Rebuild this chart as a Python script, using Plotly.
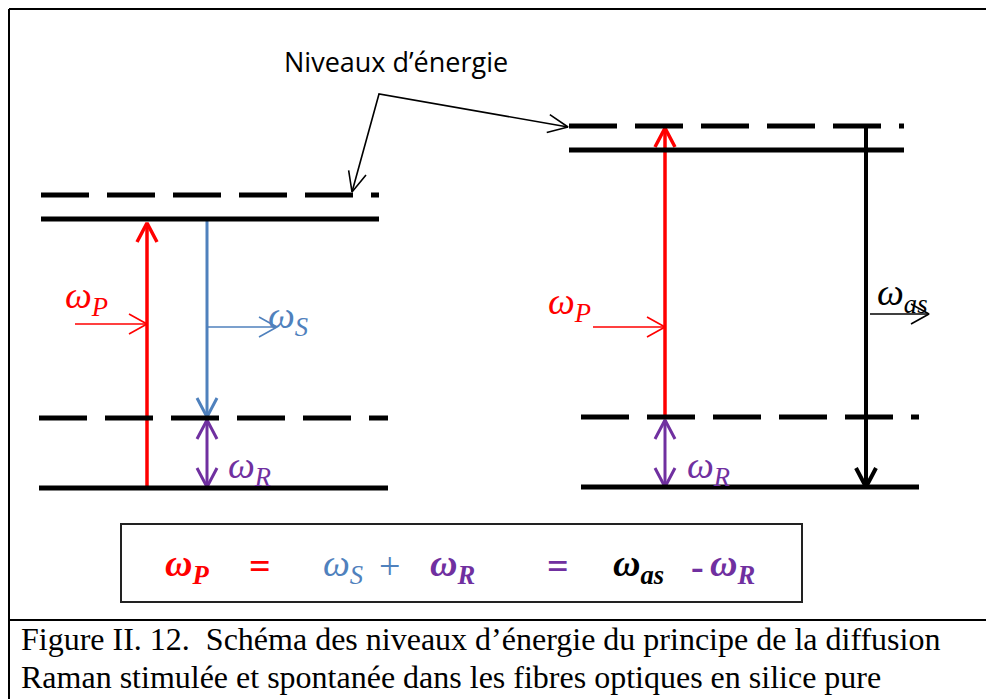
import math
import plotly.graph_objects as go

W, H = 986, 699

# ---------------- data: energy levels (diagram units, y grows downward) ----------------
level_x0 = [41, 41, 39, 39, 569, 569, 581, 581]
level_x1 = [379, 379, 388, 388, 904, 904, 919, 919]
level_y = [195, 219, 418, 488, 126, 150, 417, 487]
level_virtual = [True, False, True, False, True, False, True, False]

# ---------------- data: vertical transitions ----------------
trans_x = [147, 207, 207, 665, 665, 866]
trans_y0 = [488, 219, 487, 417, 487, 126]
trans_y1 = [223, 417, 420, 128, 420, 487]
trans_color = ["#FF0000", "#4F81BD", "#7030A0", "#FF0000", "#7030A0", "#000000"]
trans_width = [3.5, 3, 3, 3.5, 3, 4]
trans_double = [False, False, True, False, True, False]

# ---------------- data: photon (horizontal) arrows ----------------
photon_x0 = [75, 207, 593, 870]
photon_x1 = [147, 277, 665, 929]
photon_y = [324, 327, 327, 314]
photon_color = ["#FF0000", "#4F81BD", "#FF0000", "#000000"]

# ---------------- data: labels ----------------
label_text = ["ω<sub>P</sub>", "ω<sub>S</sub>", "ω<sub>R</sub>",
              "ω<sub>P</sub>", "ω<sub>R</sub>", "ω<sub>as</sub>"]
label_x = [63, 266, 226, 546, 685, 875]
label_y = [298, 318, 468, 304, 468, 295]
label_color = ["#FF0000", "#4F81BD", "#7030A0", "#FF0000", "#7030A0", "#000000"]

# callout "Niveaux d'énergie"
callout_text = "Niveaux d’énergie"
callout_path_x = [352, 379, 568]
callout_path_y = [192, 94, 127]

# equation pieces
eq_text = ["<b><i>ω<sub>P</sub></i></b>", "<b>=</b>", "<i>ω<sub>S</sub></i>", "+",
           "<b><i>ω<sub>R</sub></i></b>", "<b>=</b>", "<b><i>ω<sub>as</sub></i></b>",
           "<b>-</b>", "<b><i>ω<sub>R</sub></i></b>"]
eq_x = [163, 247, 321, 377, 428, 545, 611, 689, 708]
eq_color = ["#FF0000", "#FF0000", "#4F81BD", "#4F81BD", "#7030A0", "#7030A0",
            "#000000", "#7030A0", "#7030A0"]

caption_lines = ["Figure II. 12.  Schéma des niveaux d’énergie du principe de la diffusion",
                 "Raman stimulée et spontanée dans les fibres optiques en silice pure"]


def vhead(xt, yt, xf, yf, length, half):
    dx, dy = xt - xf, yt - yf
    d = math.hypot(dx, dy)
    ux, uy = dx / d, dy / d
    px, py = -uy, ux
    bx, by = xt - ux * length, yt - uy * length
    return [bx + px * half, xt, bx - px * half], [by + py * half, yt, by - py * half]


fig = go.Figure()
shapes = []

# frame
shapes.append(dict(type="line", x0=9, y0=9, x1=W, y1=9, line=dict(color="black", width=2)))
shapes.append(dict(type="line", x0=9, y0=9, x1=9, y1=H, line=dict(color="black", width=2)))
shapes.append(dict(type="line", x0=9, y0=620, x1=W, y1=620, line=dict(color="black", width=2)))

# energy levels
for x0, x1, y, virt in zip(level_x0, level_x1, level_y, level_virtual):
    shapes.append(dict(type="line", x0=x0, x1=x1, y0=y, y1=y,
                       line=dict(color="black", width=5, dash="48px,18px" if virt else "solid")))

# equation box
shapes.append(dict(type="rect", x0=121, x1=802, y0=524, y1=602,
                   line=dict(color="#222222", width=2), fillcolor="rgba(0,0,0,0)"))


def add_line(xs, ys, color, width):
    fig.add_trace(go.Scatter(x=xs, y=ys, mode="lines", line=dict(color=color, width=width),
                             hoverinfo="skip", showlegend=False))


# vertical transitions
for x, y0, y1, c, w, dbl in zip(trans_x, trans_y0, trans_y1, trans_color, trans_width, trans_double):
    add_line([x, x], [y0, y1], c, w)
    hx, hy = vhead(x, y1, x, y0, 19, 10)
    add_line(hx, hy, c, w)
    if dbl:
        hx, hy = vhead(x, y0, x, y1, 19, 10)
        add_line(hx, hy, c, w)

# photon arrows
for x0, x1, y, c in zip(photon_x0, photon_x1, photon_y, photon_color):
    add_line([x0, x1], [y, y], c, 1.6)
    hx, hy = vhead(x1, y, x0, y, 18, 10)
    add_line(hx, hy, c, 1.6)

# callout
add_line(callout_path_x, callout_path_y, "black", 1.6)
hx, hy = vhead(callout_path_x[0], callout_path_y[0], callout_path_x[1], callout_path_y[1], 20, 9)
add_line(hx, hy, "black", 1.6)
hx, hy = vhead(callout_path_x[2], callout_path_y[2], callout_path_x[1], callout_path_y[1], 20, 9)
add_line(hx, hy, "black", 1.6)

annotations = []
for t, x, y, c in zip(label_text, label_x, label_y, label_color):
    annotations.append(dict(x=x, y=y, text="<i>" + t + "</i>", showarrow=False,
                            xanchor="left", yanchor="middle",
                            font=dict(family="Liberation Serif", size=38, color=c)))

annotations.append(dict(x=282, y=61, text=callout_text, showarrow=False, xanchor="left",
                        yanchor="middle", font=dict(family="Open Sans", size=27, color="black")))

for t, x, c in zip(eq_text, eq_x, eq_color):
    annotations.append(dict(x=x, y=566, text=t, showarrow=False, xanchor="left", yanchor="middle",
                            font=dict(family="Liberation Serif", size=38, color=c)))

for i, line in enumerate(caption_lines):
    annotations.append(dict(x=19, y=639 + 38 * i, text=line, showarrow=False, xanchor="left",
                            yanchor="middle",
                            font=dict(family="Liberation Serif", size=32, color="black")))

fig.update_layout(
    width=W, height=H, autosize=False,
    margin=dict(l=0, r=0, t=0, b=0, pad=0),
    paper_bgcolor="white", plot_bgcolor="white",
    xaxis=dict(range=[0, W], visible=False, fixedrange=True),
    yaxis=dict(range=[H, 0], visible=False, fixedrange=True),
    shapes=shapes, annotations=annotations,
)

fig.write_html("out.html", config={"displayModeBar": False},
               post_script="document.body.style.margin='0';document.body.style.overflow='hidden';")
